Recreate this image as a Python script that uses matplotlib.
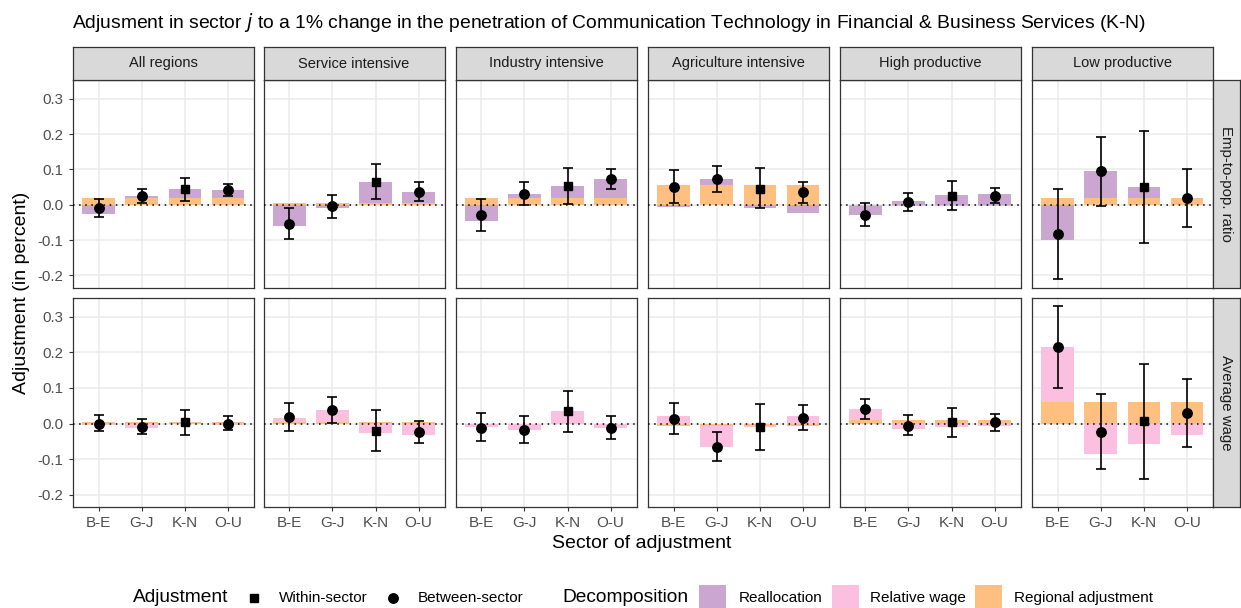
import numpy as np
import matplotlib.pyplot as plt
from matplotlib.patches import Rectangle
from matplotlib.lines import Line2D

plt.rcParams['font.family'] = ['Liberation Sans', 'DejaVu Sans']

sectors = ["B-E", "G-J", "K-N", "O-U"]
regions = ["All regions", "Service intensive", "Industry intensive",
           "Agriculture intensive", "High productive", "Low productive"]
outcomes = ["Emp-to-pop. ratio", "Average wage"]
within_sector = "K-N"  # the sector of the shock -> within-sector marker

# Employment-to-population ratio: decomposition and estimates
emp_regional = [0.019, 0.004, 0.019, 0.056, -0.004, 0.019]
emp_realloc = [
    [-0.027, 0.006, 0.025, 0.023],
    [-0.059, -0.010, 0.060, 0.033],
    [-0.047, 0.012, 0.035, 0.053],
    [-0.006, 0.016, -0.009, -0.022],
    [-0.024, 0.011, 0.029, 0.031],
    [-0.100, 0.076, 0.031, 0.000],
]
emp_point = [
    [-0.010, 0.025, 0.044, 0.042],
    [-0.053, -0.004, 0.065, 0.037],
    [-0.028, 0.031, 0.054, 0.072],
    [0.051, 0.072, 0.046, 0.035],
    [-0.028, 0.007, 0.025, 0.026],
    [-0.082, 0.095, 0.051, 0.018],
]
emp_lo = [
    [-0.035, 0.005, 0.012, 0.025],
    [-0.096, -0.037, 0.015, 0.010],
    [-0.073, -0.002, 0.002, 0.044],
    [0.004, 0.035, -0.009, 0.005],
    [-0.059, -0.018, -0.014, 0.006],
    [-0.210, -0.003, -0.107, -0.063],
]
emp_hi = [
    [0.017, 0.045, 0.076, 0.060],
    [-0.010, 0.028, 0.116, 0.065],
    [0.015, 0.065, 0.105, 0.100],
    [0.099, 0.109, 0.104, 0.065],
    [0.004, 0.032, 0.066, 0.048],
    [0.045, 0.193, 0.209, 0.101],
]

# Average wage: decomposition and estimates
wage_regional = [0.005, 0.005, 0.0, -0.007, 0.010, 0.061]
wage_relwage = [
    [-0.005, -0.013, 0.000, -0.005],
    [0.012, 0.033, -0.027, -0.033],
    [-0.011, -0.017, 0.034, -0.013],
    [0.020, -0.059, -0.003, 0.021],
    [0.031, -0.016, -0.009, -0.008],
    [0.154, -0.084, -0.056, -0.031],
]
wage_point = [
    [0.000, -0.009, 0.004, 0.000],
    [0.018, 0.038, -0.020, -0.024],
    [-0.012, -0.018, 0.034, -0.013],
    [0.013, -0.066, -0.009, 0.016],
    [0.041, -0.006, 0.005, 0.003],
    [0.215, -0.023, 0.007, 0.030],
]
wage_lo = [
    [-0.022, -0.030, -0.031, -0.019],
    [-0.021, 0.002, -0.076, -0.054],
    [-0.050, -0.055, -0.024, -0.042],
    [-0.030, -0.105, -0.073, -0.017],
    [0.013, -0.031, -0.039, -0.022],
    [0.101, -0.127, -0.156, -0.065],
]
wage_hi = [
    [0.023, 0.014, 0.038, 0.020],
    [0.057, 0.074, 0.037, 0.006],
    [0.029, 0.020, 0.091, 0.020],
    [0.057, -0.024, 0.054, 0.051],
    [0.070, 0.023, 0.043, 0.028],
    [0.330, 0.084, 0.166, 0.125],
]

col_realloc = "#CBA6D1"
col_relwage = "#FBC0DF"
col_regional = "#FFBF80"

W, H = 1241, 608
fig = plt.figure(figsize=(W / 100, H / 100), dpi=100)


def box(x0, y0, x1, y1):
    # pixel box (top-left origin) -> figure fraction
    return [x0 / W, 1 - y1 / H, (x1 - x0) / W, (y1 - y0) / H]


col_left = [72.7, 263.5, 455.5, 647.7, 839.5, 1031.7]
pw = 181.0
row_y = [(80.0, 287.5), (297.7, 507.0)]
ylim = (-0.234, 0.353)
xs = np.arange(1, 5)

rows = [
    (emp_regional, emp_realloc, col_realloc, emp_point, emp_lo, emp_hi),
    (wage_regional, wage_relwage, col_relwage, wage_point, wage_lo, wage_hi),
]

for r, (reg, comp, ccol, pt, lo, hi) in enumerate(rows):
    for c in range(6):
        x0 = col_left[c]
        ax = fig.add_axes(box(x0, row_y[r][0], x0 + pw, row_y[r][1]))
        ax.set_xlim(0.4, 4.6)
        ax.set_ylim(*ylim)
        ax.set_axisbelow(True)
        ax.grid(True, color="#EBEBEB", lw=1.1)
        for i in range(4):
            pos, neg = 0.0, 0.0
            for v, colr in [(reg[c], col_regional), (comp[c][i], ccol)]:
                if v >= 0:
                    ax.bar(xs[i], v, bottom=pos, width=0.75, color=colr, lw=0, zorder=2)
                    pos += v
                else:
                    ax.bar(xs[i], v, bottom=neg, width=0.75, color=colr, lw=0, zorder=2)
                    neg += v
        ax.axhline(0, color="black", ls=(0, (1, 3)), lw=1.1, zorder=3)
        p = np.array(pt[c])
        yerr = [p - np.array(lo[c]), np.array(hi[c]) - p]
        ax.errorbar(xs, p, yerr=yerr, fmt="none", ecolor="black", elinewidth=1.2,
                    capsize=3.9, capthick=1.2, zorder=4)
        for i, s in enumerate(sectors):
            mk = "s" if s == within_sector else "o"
            ax.plot(xs[i], p[i], marker=mk, color="black",
                    ms=6.2 if mk == "s" else 6.8, ls="none", zorder=5)
        ax.set_xticks(xs)
        ax.set_yticks([-0.2, -0.1, 0.0, 0.1, 0.2, 0.3])
        for sp in ax.spines.values():
            sp.set_color("#333333")
            sp.set_linewidth(0.9)
        ax.tick_params(color="#333333", length=3, width=0.8, labelcolor="#4D4D4D")
        if c == 0:
            ax.set_yticklabels(["-0.2", "-0.1", "0.0", "0.1", "0.2", "0.3"], fontsize=10.8)
        else:
            ax.tick_params(axis="y", labelleft=False, length=0)
        if r == 1:
            ax.set_xticklabels(sectors, fontsize=11)
        else:
            ax.tick_params(axis="x", labelbottom=False, length=0)

        # column strips
        if r == 0:
            sax = fig.add_axes(box(x0, 47, x0 + pw, 80))
            sax.set_facecolor("#D9D9D9")
            sax.set_xticks([])
            sax.set_yticks([])
            for sp in sax.spines.values():
                sp.set_color("#333333")
                sp.set_linewidth(0.9)
            sax.text(0.5, 0.5, regions[c], ha="center", va="center",
                     fontsize=10.5, color="#1A1A1A", transform=sax.transAxes)

    # row strips
    rax = fig.add_axes(box(1212.7, row_y[r][0], 1240, row_y[r][1]))
    rax.set_facecolor("#D9D9D9")
    rax.set_xticks([])
    rax.set_yticks([])
    for sp in rax.spines.values():
        sp.set_color("#333333")
        sp.set_linewidth(0.9)
    rax.text(0.5, 0.5, outcomes[r], ha="center", va="center", rotation=-90,
             fontsize=10.8, color="#1A1A1A", transform=rax.transAxes)

fig.text(72 / W, 1 - 22 / H,
         "Adjusment in sector $j$ to a 1% change in the penetration of Communication "
         "Technology in Financial & Business Services (K-N)",
         ha="left", va="center", fontsize=13.9, color="black")
fig.text(642 / W, 1 - 543 / H, "Sector of adjustment", ha="center", va="center", fontsize=14)
fig.text(22 / W, 1 - 293 / H, "Adjustment (in percent)", ha="center", va="center",
         rotation=90, fontsize=14)

# legend
ly = 1 - 598 / H
fig.text(133 / W, ly, "Adjustment", ha="left", va="center", fontsize=13.8)
fig.add_artist(Line2D([253.5 / W], [ly], marker="s", color="black", ms=6.3, ls="none"))
fig.text(279 / W, ly, "Within-sector", ha="left", va="center", fontsize=11)
fig.add_artist(Line2D([392.5 / W], [ly], marker="o", color="black", ms=6.8, ls="none"))
fig.text(418 / W, ly, "Between-sector", ha="left", va="center", fontsize=11)
fig.text(562 / W, ly, "Decomposition", ha="left", va="center", fontsize=13.8)
for kx, tx, colr, lab in [(699, 739, col_realloc, "Reallocation"),
                          (832, 870, col_relwage, "Relative wage"),
                          (975, 1014, col_regional, "Regional adjustment")]:
    fig.add_artist(Rectangle((kx / W, 1 - 608 / H), 27 / W, 23 / H,
                             transform=fig.transFigure, color=colr, lw=0))
    fig.text(tx / W, ly, lab, ha="left", va="center", fontsize=11)

fig.savefig("out.png", dpi=100)
